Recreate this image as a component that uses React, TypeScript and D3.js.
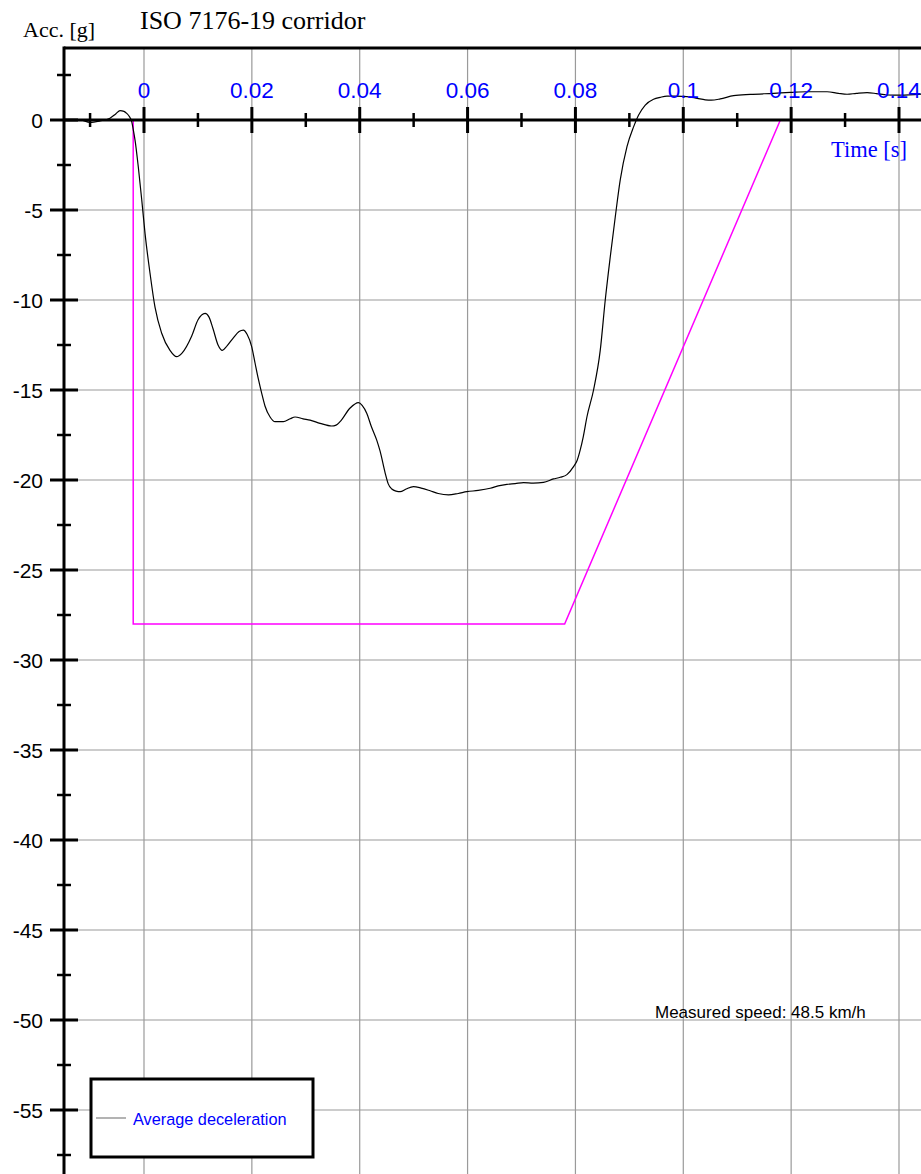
import React from "react";
import * as d3 from "d3";

// Time [s] of measured acceleration trace
const times: number[] = [
  -0.01484, -0.01187, -0.01002, -0.00816, -0.00631, -0.0052, -0.00445, -0.00371, -0.00321, -0.00278,
  -0.00228, -0.00195, -0.00167, -0.00106, -0.00043, 0.00019, 0.00111, 0.00204, 0.00328, 0.00482,
  0.00607, 0.00705, 0.00885, 0.01002, 0.01132, 0.01206, 0.0128, 0.01373, 0.01453, 0.0154,
  0.01657, 0.01763, 0.01842, 0.01911, 0.01998, 0.02059, 0.02121, 0.02184, 0.02245, 0.02338,
  0.0243, 0.02584, 0.02709, 0.02801, 0.0295, 0.0308, 0.03265, 0.03482, 0.03562, 0.03636,
  0.03822, 0.03976, 0.04045, 0.04132, 0.04212, 0.04317, 0.04378, 0.04471, 0.04527, 0.04595,
  0.04675, 0.0475, 0.04861, 0.04996, 0.05139, 0.05306, 0.05455, 0.05646, 0.05826, 0.05987,
  0.06197, 0.06419, 0.06568, 0.06729, 0.06883, 0.07037, 0.07217, 0.07408, 0.07594, 0.07718,
  0.07842, 0.07965, 0.08033, 0.08089, 0.08145, 0.08213, 0.08336, 0.0846, 0.08553, 0.08646,
  0.08738, 0.08831, 0.08956, 0.0908, 0.09172, 0.09295, 0.09449, 0.09573, 0.09698, 0.0987,
  0.10069, 0.1026, 0.10408, 0.10519, 0.10686, 0.10933, 0.11243, 0.11675, 0.11985, 0.12295,
  0.12666, 0.12876, 0.13037, 0.1321, 0.13408, 0.13581, 0.13779, 0.14026, 0.14416,
];

// Acceleration [g]
const accel: number[] = [
  0, 0, -0.13, -0.05, 0.1, 0.35, 0.52, 0.48, 0.37, 0.22,
  -0.09, -0.6, -1.1, -2.6, -4.4, -6.3, -8.5, -10.4, -11.85, -12.8,
  -13.15, -12.95, -12.0, -11.1, -10.74, -10.95, -11.6, -12.5, -12.8, -12.55,
  -12.1, -11.75, -11.67, -11.9, -12.6, -13.5, -14.4, -15.2, -15.9, -16.5,
  -16.76, -16.76, -16.6, -16.5, -16.6, -16.67, -16.85, -17.0, -16.95, -16.76,
  -16.0, -15.7, -15.85, -16.3, -17.0, -17.8, -18.4, -19.6, -20.2, -20.5,
  -20.62, -20.65, -20.5, -20.37, -20.45, -20.6, -20.75, -20.83, -20.75, -20.65,
  -20.58, -20.46, -20.33, -20.24, -20.2, -20.15, -20.17, -20.13, -19.94, -19.85,
  -19.7, -19.26, -18.9, -18.33, -17.6, -16.5, -15.0, -12.8, -10.0, -7.6,
  -5.4, -3.33, -1.48, -0.37, 0.28, 0.83, 1.15, 1.26, 1.33, 1.33,
  1.3, 1.2, 1.12, 1.1, 1.17, 1.35, 1.42, 1.48, 1.53, 1.57,
  1.57, 1.48, 1.43, 1.48, 1.52, 1.47, 1.39, 1.38, 1.44,
];

// ISO 7176-19 corridor
const corridorTimes: number[] = [-0.002, -0.002, 0.078, 0.118];
const corridorAccel: number[] = [0, -28, -28, 0];

const xMajorTicks: number[] = [0, 0.02, 0.04, 0.06, 0.08, 0.1, 0.12, 0.14];
const xTickLabels: string[] = ["0", "0.02", "0.04", "0.06", "0.08", "0.1", "0.12", "0.14"];
const xMinorTicks: number[] = [-0.01, 0.01, 0.03, 0.05, 0.07, 0.09, 0.11, 0.13];
const yMajorTicks: number[] = [0, -5, -10, -15, -20, -25, -30, -35, -40, -45, -50, -55];
const yMinorTicks: number[] = [2.5, -2.5, -7.5, -12.5, -17.5, -22.5, -27.5, -32.5, -37.5, -42.5, -47.5, -52.5, -57.5];

const W = 921;
const H = 1174;
const left = 64;
const top = 48;

export default function App() {
  if (typeof document !== "undefined") {
    document.body.style.margin = "0";
    document.body.style.overflow = "hidden";
  }
  const x = d3.scaleLinear().domain([0, 0.14]).range([144, 899]);
  const y = d3.scaleLinear().domain([0, -55]).range([120, 1110]);
  const y0 = y(0);

  const line = d3
    .line<number>()
    .x((_, i) => x(times[i]))
    .y((_, i) => y(accel[i]))
    .curve(d3.curveMonotoneX);
  const corridor = d3
    .line<number>()
    .x((_, i) => x(corridorTimes[i]))
    .y((_, i) => y(corridorAccel[i]));

  const sans = "Liberation Sans, Arial, sans-serif";
  const serif = "Liberation Serif, Times New Roman, serif";
  const grid = "#9a9a9a";

  return (
    <svg width={W} height={H} style={{ position: "absolute", left: 0, top: 0, background: "#fff" }}>
      <rect x={0} y={0} width={W} height={H} fill="#fff" />
      {/* grid */}
      {xMajorTicks.map((t) => (
        <line key={"gx" + t} x1={x(t)} x2={x(t)} y1={top} y2={H} stroke={grid} strokeWidth={1.2} />
      ))}
      {yMajorTicks.filter((v) => v !== 0).map((v) => (
        <line key={"gy" + v} x1={left} x2={W} y1={y(v)} y2={y(v)} stroke={grid} strokeWidth={1.2} />
      ))}

      {/* corridor */}
      <path d={corridor(corridorTimes) || ""} fill="none" stroke="#ff00ff" strokeWidth={1.5} />
      {/* measured */}
      <path d={line(times) || ""} fill="none" stroke="#000" strokeWidth={1.2} />

      {/* frame & axes */}
      <line x1={left} x2={W} y1={top} y2={top} stroke="#000" strokeWidth={3} />
      <line x1={left} x2={left} y1={top - 1.5} y2={H} stroke="#000" strokeWidth={3} />
      <line x1={left} x2={W} y1={y0} y2={y0} stroke="#000" strokeWidth={3} />

      {xMajorTicks.map((t) => (
        <line key={"xt" + t} x1={x(t)} x2={x(t)} y1={y0 - 13} y2={y0 + 13} stroke="#000" strokeWidth={3} />
      ))}
      {xMinorTicks.map((t) => (
        <line key={"xm" + t} x1={x(t)} x2={x(t)} y1={y0 - 7} y2={y0 + 7} stroke="#000" strokeWidth={2.5} />
      ))}
      {yMajorTicks.map((v) => (
        <line key={"yt" + v} x1={left - 14} x2={left + 14} y1={y(v)} y2={y(v)} stroke="#000" strokeWidth={3} />
      ))}
      {yMinorTicks.map((v) => (
        <line key={"ym" + v} x1={left - 7} x2={left + 7} y1={y(v)} y2={y(v)} stroke="#000" strokeWidth={2.5} />
      ))}

      {xMajorTicks.map((t, i) => (
        <text key={"xl" + t} x={x(t)} y={y0 - 22} textAnchor="middle" fontFamily={sans} fontSize={22.5} fill="#0000ff">
          {xTickLabels[i]}
        </text>
      ))}
      {yMajorTicks.map((v) => (
        <text key={"yl" + v} x={43} y={y(v)} dy="0.36em" textAnchor="end" fontFamily={sans} fontSize={21} fill="#000">
          {String(v)}
        </text>
      ))}

      <text x={140} y={29} fontFamily={serif} fontSize={26} fill="#000">ISO 7176-19 corridor</text>
      <text x={23} y={37} fontFamily={serif} fontSize={22} fill="#000">Acc. [g]</text>
      <text x={907} y={157} textAnchor="end" fontFamily={serif} fontSize={22.5} fill="#0000ff">Time [s]</text>
      <text x={655} y={1018} fontFamily={sans} fontSize={17} fill="#000">Measured speed: 48.5 km/h</text>

      {/* legend */}
      <rect x={91} y={1079} width={222} height={78} fill="#fff" stroke="#000" strokeWidth={3} />
      <line x1={96} x2={126} y1={1118} y2={1118} stroke="#808080" strokeWidth={1.2} />
      <text x={133} y={1125} fontFamily={sans} fontSize={16.3} fill="#0000ff">Average deceleration</text>
    </svg>
  );
}
